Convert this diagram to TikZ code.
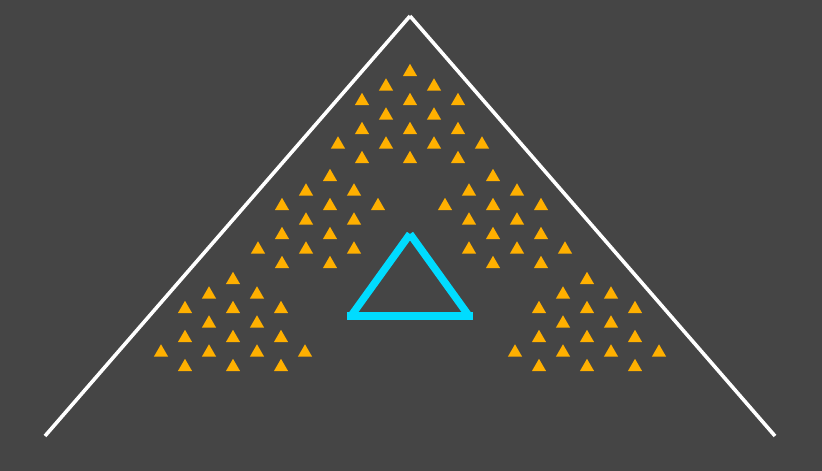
\documentclass[tikz,border=0pt]{standalone}
\usetikzlibrary{shapes.geometric,positioning}
\definecolor{bggray}{HTML}{454545}
\definecolor{triorange}{HTML}{FFB000}
\definecolor{linecyan}{HTML}{00DCFF}

\newcommand{\fullset}{0/0,-1/1,1/1,-2/2,0/2,2/2,-1/3,1/3,-2/4,0/4,2/4,-3/5,-1/5,1/5,3/5,-2/6,0/6,2/6}
\newcommand{\leftset}{0/0,-1/1,1/1,-2/2,0/2,2/2,-1/3,1/3,-2/4,0/4,-3/5,-1/5,1/5,-2/6,0/6}
\newcommand{\rightset}{0/0,-1/1,1/1,-2/2,0/2,2/2,-1/3,1/3,0/4,2/4,-1/5,1/5,3/5,0/6,2/6}

\begin{document}
\begin{tikzpicture}[x=1pt, y=-1pt,
        tri/.style = {regular polygon, regular polygon sides=3, fill=triorange,
                      inner sep=0pt, minimum size=16.4pt, yshift=-2pt},
      roof/.style = {draw=white, line width=3.6pt, line cap=butt},
     frame/.style = {draw=linecyan, line width=7.5pt}
]
% background fixes the page size
\fill[bggray] (0,0) rectangle (822,471);

% white roof
\coordinate (top)   at (410,16);
\coordinate (left)  at (45,436);
\coordinate (right) at (775,436);
\draw[roof] (top) -- (left);
\draw[roof] (top) -- (right);

% small triangles, five groups
\foreach \c/\r in \fullset
    \node[tri] (up-\c-\r) at ({410+24*\c},{70+14.5*\r}) {};
\foreach \c/\r in \leftset
    \node[tri] (ml-\c-\r) at ({330+24*\c},{175+14.5*\r}) {};
\foreach \c/\r in \rightset
    \node[tri] (mr-\c-\r) at ({493+24*\c},{175+14.5*\r}) {};
\foreach \c/\r in \fullset
    \node[tri] (bl-\c-\r) at ({233+24*\c},{278+14.5*\r}) {};
\foreach \c/\r in \fullset
    \node[tri] (br-\c-\r) at ({587+24*\c},{278+14.5*\r}) {};

% cyan triangle
\coordinate (ctop)   at (410,234);
\coordinate (cleft)  at (351,316);
\coordinate (cright) at (469,316);
\draw[frame] (ctop) -- (cleft);
\draw[frame] (ctop) -- (cright);
\draw[frame, line cap=rect] (cleft) -- (cright);
\end{tikzpicture}
\end{document}
